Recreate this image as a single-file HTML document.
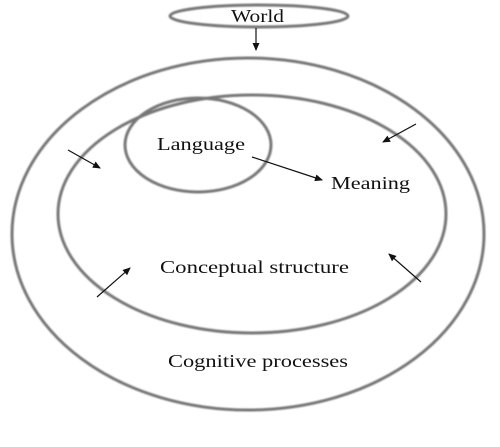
<!DOCTYPE html>
<html><head><style>
html,body{margin:0;padding:0;background:#fff;}
svg{display:block;}
text{font-family:"Liberation Serif",serif;font-size:18px;fill:#111;}
</style></head><body>
<svg width="500" height="447" viewBox="0 0 500 447" xmlns="http://www.w3.org/2000/svg">
<defs>
<filter id="b" x="-5%" y="-5%" width="110%" height="110%"><feGaussianBlur stdDeviation="0.8"/></filter>
<marker id="a" markerWidth="8" markerHeight="8" refX="7" refY="4" orient="auto" markerUnits="userSpaceOnUse">
<path d="M0,0.5 L8,4 L0,7.5 z" fill="#111"/></marker>
</defs>
<g fill="none" stroke="#777" stroke-width="3" filter="url(#b)">
<ellipse cx="259" cy="16" rx="89" ry="11"/>
<ellipse cx="248" cy="234" rx="236" ry="176"/>
<ellipse cx="252" cy="214" rx="194" ry="119"/>
<ellipse cx="198" cy="145" rx="73" ry="47"/>
</g>
<g stroke="#111" stroke-width="1.2" marker-end="url(#a)">
<line x1="256" y1="28" x2="256" y2="50"/>
<line x1="252" y1="157" x2="322" y2="180"/>
<line x1="416" y1="124" x2="383" y2="142"/>
<line x1="68" y1="150" x2="100" y2="168"/>
<line x1="97" y1="297" x2="130" y2="268"/>
<line x1="421" y1="282" x2="389" y2="254"/>
</g>
<text x="231" y="22" font-size="17" textLength="53" lengthAdjust="spacingAndGlyphs">World</text>
<text x="157" y="150" textLength="88" lengthAdjust="spacingAndGlyphs">Language</text>
<text x="331" y="189" textLength="79" lengthAdjust="spacingAndGlyphs">Meaning</text>
<text x="160" y="273" textLength="189" lengthAdjust="spacingAndGlyphs">Conceptual structure</text>
<text x="168" y="367" textLength="180" lengthAdjust="spacingAndGlyphs">Cognitive processes</text>
</svg>
</body></html>
